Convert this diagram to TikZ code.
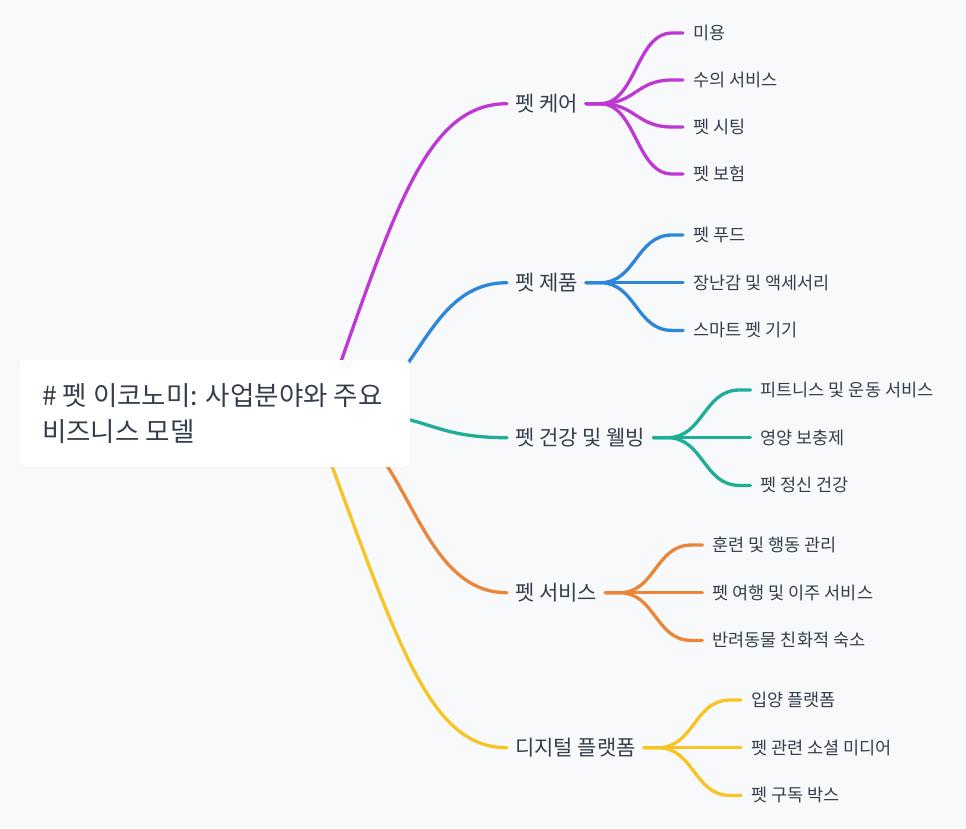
\documentclass[tikz,border=0pt]{standalone}
\usepackage{fontspec}
\setmainfont{Noto Sans CJK KR}
\usetikzlibrary{calc,shadows}
\definecolor{bg}{RGB}{248,249,251}
\definecolor{txt}{RGB}{52,62,76}
\definecolor{cmag}{RGB}{192,56,212}
\definecolor{cblue}{RGB}{46,134,218}
\definecolor{cteal}{RGB}{30,174,152}
\definecolor{corange}{RGB}{234,134,58}
\definecolor{cyellow}{RGB}{247,196,38}
\begin{document}
\begin{tikzpicture}[x=1pt,y=-1pt,
  link/.style={line width=3.3pt, line cap=round},
  cat/.style={anchor=west, inner xsep=8pt, inner ysep=0pt, font=\fontsize{21}{24}\selectfont, text=txt},
  leaf/.style={anchor=west, inner xsep=10pt, inner ysep=0pt, font=\fontsize{17.5}{20}\selectfont, text=txt},
  rootbox/.style={rectangle, rounded corners=5pt, fill=white, minimum width=390pt, minimum height=107pt, inner sep=0pt,
    drop shadow={opacity=0.05, shadow xshift=0pt, shadow yshift=-1.5pt}},
  roottext/.style={anchor=west, inner sep=0pt, align=left, font=\fontsize{26.5}{36}\selectfont, text=txt},
  leaflink/.style={to path={-- ($(\tikztostart)+(14,0)$) .. controls ($(\tikztostart)+(50,0)$) and ($(\tikztotarget)+(-47,0)$) .. ($(\tikztotarget)+(-11,0)$) -- (\tikztotarget)}}
]
\fill[bg] (0,0) rectangle (966,828);
\useasboundingbox (0,0) rectangle (966,828);

% categories
\node[cat] (cat1) at (507,103.7) {펫 케어};
\node[cat] (cat2) at (507,282.7) {펫 제품};
\node[cat] (cat3) at (507,437.7) {펫 건강 및 웰빙};
\node[cat] (cat4) at (507,592.7) {펫 서비스};
\node[cat] (cat5) at (507,747.7) {디지털 플랫폼};

% leaves
\node[leaf] (l11) at ($(cat1.east)+(97,-70.7)$) {미용};
\node[leaf] (l12) at ($(cat1.east)+(97,-23.7)$) {수의 서비스};
\node[leaf] (l13) at ($(cat1.east)+(97,23.3)$) {펫 시팅};
\node[leaf] (l14) at ($(cat1.east)+(97,70.3)$) {펫 보험};

\node[leaf] (l21) at ($(cat2.east)+(97,-47.7)$) {펫 푸드};
\node[leaf] (l22) at ($(cat2.east)+(97,0)$) {장난감 및 액세서리};
\node[leaf] (l23) at ($(cat2.east)+(97,47.7)$) {스마트 펫 기기};

\node[leaf] (l31) at ($(cat3.east)+(97,-47.7)$) {피트니스 및 운동 서비스};
\node[leaf] (l32) at ($(cat3.east)+(97,0)$) {영양 보충제};
\node[leaf] (l33) at ($(cat3.east)+(97,47.7)$) {펫 정신 건강};

\node[leaf] (l41) at ($(cat4.east)+(97,-47.7)$) {훈련 및 행동 관리};
\node[leaf] (l42) at ($(cat4.east)+(97,0)$) {펫 여행 및 이주 서비스};
\node[leaf] (l43) at ($(cat4.east)+(97,47.7)$) {반려동물 친화적 숙소};

\node[leaf] (l51) at ($(cat5.east)+(97,-47.7)$) {입양 플랫폼};
\node[leaf] (l52) at ($(cat5.east)+(97,0)$) {펫 관련 소셜 미디어};
\node[leaf] (l53) at ($(cat5.east)+(97,47.7)$) {펫 구독 박스};

% leaf links
\foreach \c/\l in {cat1/l11,cat1/l12,cat1/l13,cat1/l14}
  \draw[link,cmag] (\c.east) to[leaflink] (\l.west);
\foreach \c/\l in {cat2/l21,cat2/l22,cat2/l23}
  \draw[link,cblue] (\c.east) to[leaflink] (\l.west);
\foreach \c/\l in {cat3/l31,cat3/l32,cat3/l33}
  \draw[link,cteal] (\c.east) to[leaflink] (\l.west);
\foreach \c/\l in {cat4/l41,cat4/l42,cat4/l43}
  \draw[link,corange] (\c.east) to[leaflink] (\l.west);
\foreach \c/\l in {cat5/l51,cat5/l52,cat5/l53}
  \draw[link,cyellow] (\c.east) to[leaflink] (\l.west);

% main links (start points hidden under the root box)
\coordinate (s1) at (338,370);
\coordinate (s2) at (330,413);
\coordinate (s3) at (350,413);
\coordinate (s4) at (310,413);
\coordinate (s5) at (325,447);
\draw[link,cmag] (s1) .. controls (398,200) and (430,103.7) .. (cat1.west);
\draw[link,cblue] (s2) .. controls (418.5,413) and (418.5,282.7) .. (cat2.west);
\draw[link,cteal] (s3) .. controls (428.5,413) and (428.5,437.7) .. (cat3.west);
\draw[link,corange] (s4) .. controls (408.5,413) and (408.5,592.7) .. (cat4.west);
\draw[link,cyellow] (s5) .. controls (399,647) and (430,747.7) .. (cat5.west);

% root
\node[rootbox] (root) at (215,413.5) {};
\node[roottext] (title) at (42,413.5) {\# 펫 이코노미: 사업분야와 주요\\비즈니스 모델};
\end{tikzpicture}
\end{document}
